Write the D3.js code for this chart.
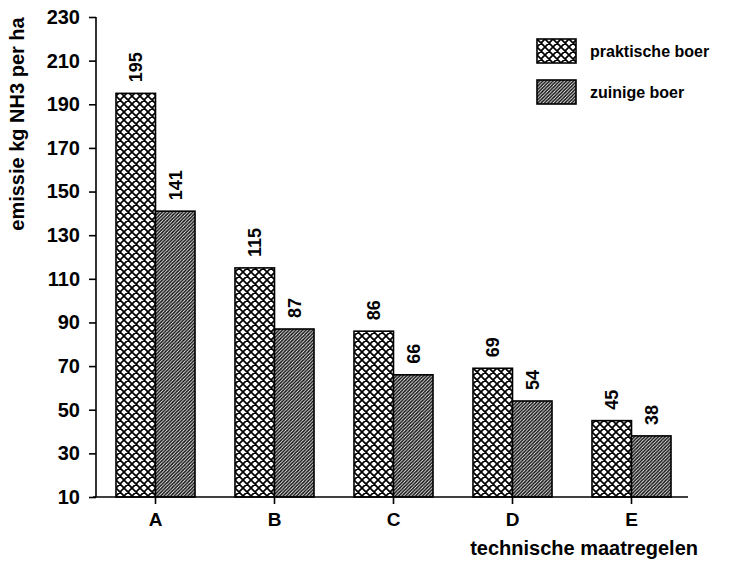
<!DOCTYPE html>
<html>
<head>
<meta charset="utf-8">
<script src="https://cdn.jsdelivr.net/npm/d3@7"></script>
<style>
  html, body { margin: 0; padding: 0; background: #fff; }
  svg text { font-family: "Liberation Sans", Arial, Helvetica, sans-serif; font-weight: bold; fill: #000; }
</style>
</head>
<body>
<svg id="chart" width="739" height="562"></svg>
<script>
// Ammonia emission per technical measure, for two farmer types
const categories = ["A", "B", "C", "D", "E"];
const seriesNames = ["praktische boer", "zuinige boer"];
const praktischeBoer = [195, 115, 86, 69, 45];
const zuinigeBoer = [141, 87, 66, 54, 38];
const yTicks = [10, 30, 50, 70, 90, 110, 130, 150, 170, 190, 210, 230];
const yTitle = "emissie kg NH3 per ha";
const xTitle = "technische maatregelen";

const seriesValues = [praktischeBoer, zuinigeBoer];
const patternIds = ["cross", "hatch"];

const svg = d3.select("#chart");
const defs = svg.append("defs");

// Cross-hatch (diamond) fill
const cross = defs.append("pattern")
  .attr("id", "cross").attr("patternUnits", "userSpaceOnUse")
  .attr("width", 8).attr("height", 8);
cross.append("rect").attr("width", 8).attr("height", 8).attr("fill", "#fff");
cross.append("path")
  .attr("d", "M0,0 L8,8 M8,0 L0,8 M-1,7 L1,9 M7,-1 L9,1 M-1,1 L1,-1 M7,9 L9,7")
  .attr("stroke", "#000").attr("stroke-width", 1.7);

// Dense diagonal hatch fill
const hatch = defs.append("pattern")
  .attr("id", "hatch").attr("patternUnits", "userSpaceOnUse")
  .attr("width", 3.4).attr("height", 3.4);
hatch.append("rect").attr("width", 3.4).attr("height", 3.4).attr("fill", "#fff");
hatch.append("path")
  .attr("d", "M0,3.4 L3.4,0 M-0.85,0.85 L0.85,-0.85 M2.55,4.25 L4.25,2.55")
  .attr("stroke", "#111").attr("stroke-width", 1.6);

const plot = { left: 96, right: 691, top: 17, bottom: 497 };

const x0 = d3.scaleBand()
  .domain(categories)
  .range([plot.left, plot.right])
  .paddingInner(0.336)
  .paddingOuter(0.168);

const x1 = d3.scaleBand()
  .domain(seriesNames)
  .range([0, x0.bandwidth()]);

const y = d3.scaleLinear()
  .domain([10, 230])
  .range([plot.bottom, plot.top]);

// Bars
const groups = svg.append("g").selectAll("g")
  .data(categories)
  .join("g")
  .attr("transform", d => `translate(${x0(d)},0)`);

groups.selectAll("rect")
  .data((c, i) => seriesNames.map((s, k) => ({ s, k, v: seriesValues[k][i] })))
  .join("rect")
  .attr("x", d => x1(d.s))
  .attr("y", d => y(d.v))
  .attr("width", x1.bandwidth())
  .attr("height", d => y(10) - y(d.v))
  .attr("fill", d => `url(#${patternIds[d.k]})`)
  .attr("stroke", "#000")
  .attr("stroke-width", 1.6);

// Value labels, rotated above each bar
groups.selectAll("text")
  .data((c, i) => seriesNames.map((s, k) => ({ s, k, v: seriesValues[k][i] })))
  .join("text")
  .attr("transform", d => `translate(${x1(d.s) + x1.bandwidth() / 2},${y(d.v) - 11}) rotate(-90)`)
  .attr("dy", "0.36em")
  .attr("font-size", 18)
  .text(d => d.v);

// Y axis
const yAxis = svg.append("g")
  .attr("transform", `translate(${plot.left},0)`)
  .call(d3.axisLeft(y).tickValues(yTicks).tickSize(7).tickPadding(9).tickFormat(d3.format("d")));
yAxis.attr("font-family", null).attr("font-size", null);
yAxis.select(".domain").attr("stroke", "#000").attr("stroke-width", 1.6)
  .attr("d", `M0,${plot.top}V${plot.bottom}`);
yAxis.selectAll(".tick line").attr("stroke", "#000").attr("stroke-width", 1.6);
yAxis.selectAll(".tick text").attr("font-size", 20);

// X axis
const xAxis = svg.append("g")
  .attr("transform", `translate(0,${plot.bottom})`)
  .call(d3.axisBottom(x0).tickSize(7).tickPadding(9));
xAxis.attr("font-family", null).attr("font-size", null);
xAxis.select(".domain").attr("stroke", "#000").attr("stroke-width", 1.6)
  .attr("d", `M${plot.left - 3},0H${plot.right - 3}`);
xAxis.selectAll(".tick line").attr("stroke", "#000").attr("stroke-width", 1.6);
xAxis.selectAll(".tick text").attr("font-size", 19);

// Axis titles
svg.append("text")
  .attr("transform", "translate(17,124) rotate(-90)")
  .attr("text-anchor", "middle")
  .attr("dy", "0.36em")
  .attr("font-size", 20)
  .text(yTitle);

svg.append("text")
  .attr("x", 698).attr("y", 555)
  .attr("text-anchor", "end")
  .attr("font-size", 20)
  .text(xTitle);

// Legend
const legend = svg.append("g").attr("transform", "translate(537,39)");
const items = legend.selectAll("g")
  .data(seriesNames)
  .join("g")
  .attr("transform", (d, i) => `translate(0,${i * 41})`);
items.append("rect")
  .attr("width", 39).attr("height", 24)
  .attr("fill", (d, i) => `url(#${patternIds[i]})`)
  .attr("stroke", "#000").attr("stroke-width", 1.6);
items.append("text")
  .attr("x", 53).attr("y", 12)
  .attr("dy", "0.36em")
  .attr("font-size", 16)
  .text(d => d);
</script>
</body>
</html>
